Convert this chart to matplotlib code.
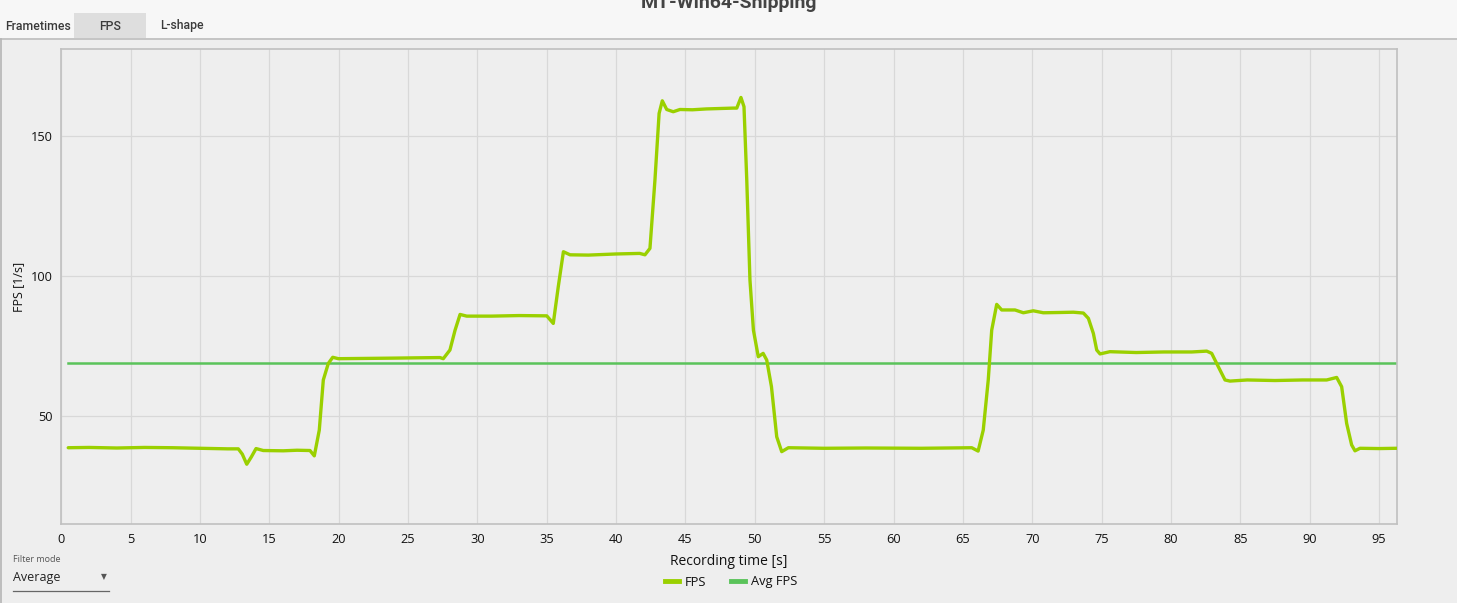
import matplotlib
matplotlib.use("Agg")
import matplotlib.pyplot as plt
from matplotlib.lines import Line2D
from matplotlib.patches import Rectangle

# ---- data ----
time_s = [0.5, 2.0, 4.0, 6.0, 8.0, 10.0, 12.0, 12.76, 13.05, 13.37, 13.7, 14.04, 14.56, 16.0, 17.0,
          17.93, 18.24, 18.6, 18.89, 19.25, 19.57, 19.97, 22.0, 23.94, 25.5, 27.3, 27.54, 28.02,
          28.39, 28.75, 29.23, 31.0, 33.0, 35.0, 35.47, 35.83, 36.2, 36.68, 38.0, 40.0, 41.7,
          42.08, 42.44, 42.8, 43.1, 43.33, 43.65, 44.12, 44.6, 45.5, 46.5, 48.45, 48.7, 49.0,
          49.22, 49.42, 49.65, 49.9, 50.25, 50.6, 50.86, 51.2, 51.58, 51.94, 52.42, 55.0, 58.0,
          62.0, 65.64, 66.1, 66.47, 66.83, 67.08, 67.44, 67.8, 68.76, 69.36, 70.08, 70.8, 72.0,
          72.97, 73.69, 74.05, 74.41, 74.65, 74.89, 75.6, 77.5, 79.5, 81.5, 82.58, 82.94, 83.42,
          83.9, 84.26, 85.5, 87.5, 89.5, 91.23, 91.95, 92.31, 92.67, 93.03, 93.27, 93.63, 95.0,
          96.28]
fps = [38.8, 38.9, 38.7, 38.9, 38.8, 38.6, 38.4, 38.4, 36.5, 32.9, 35.5, 38.5, 37.8, 37.7, 37.9,
       37.8, 35.9, 45.1, 63.0, 68.9, 71.1, 70.6, 70.7, 70.8, 70.9, 71.0, 70.6, 73.7,
       80.8, 86.4, 85.8, 85.8, 86.0, 85.9, 83.2, 96.3, 108.8, 107.7, 107.6, 108.0, 108.2,
       107.7, 110.0, 134.4, 158.2, 162.7, 159.6, 158.8, 159.6, 159.5, 159.8, 160.1, 160.1, 163.9,
       160.6, 134.4, 98.7, 80.8, 71.3, 72.5, 70.1, 60.6, 42.7, 37.4, 38.8, 38.6, 38.7,
       38.6, 38.8, 37.6, 45.1, 63.0, 80.8, 90.0, 88.0, 88.0, 87.0, 87.7, 87.0, 87.1,
       87.2, 86.9, 85.0, 79.6, 73.7, 72.3, 73.1, 72.8, 73.0, 73.0, 73.3, 72.5, 67.7,
       63.0, 62.6, 63.0, 62.8, 63.0, 63.0, 63.9, 60.6, 47.5, 39.8, 37.7, 38.6, 38.5,
       38.6]
avg_fps = 68.9
x_ticks = [0, 5, 10, 15, 20, 25, 30, 35, 40, 45, 50, 55, 60, 65, 70, 75, 80, 85, 90, 95]
y_ticks = [50, 100, 150]
tabs = ["Frametimes", "FPS", "L-shape"]
title = "MT-Win64-Shipping"

W, H = 1457, 603
fig = plt.figure(figsize=(W / 100, H / 100), dpi=100)
fig.patch.set_facecolor("#eeeeee")

def fx(px):
    return px / W

def fy(py):
    return 1 - py / H

# top strip
fig.add_artist(Rectangle((0, fy(38)), 1, 38 / H, transform=fig.transFigure,
                         facecolor="#f7f7f7", edgecolor="none", zorder=0))
fig.add_artist(Rectangle((fx(74), fy(38)), 72 / W, 25 / H, transform=fig.transFigure,
                         facecolor="#dedede", edgecolor="none", zorder=1))
fig.add_artist(Line2D([0, 1], [fy(38.5), fy(38.5)], transform=fig.transFigure,
                      color="#bdbdbd", lw=1.2, zorder=2))
fig.add_artist(Line2D([fx(0.5), fx(0.5)], [0, fy(38.5)], transform=fig.transFigure,
                      color="#b5b5b5", lw=1.2, zorder=2))

tab_x = [38, 110, 182]
for tx, lab in zip(tab_x, tabs):
    fig.text(fx(tx), fy(26), lab, ha="center", va="center", fontsize=8.8,
             family="Roboto", weight="medium", color="#3a3a3a")

fig.text(fx(729), fy(7.5), title, ha="center", va="baseline", fontsize=14,
         family="Roboto", weight="bold", color="#444444")

# axes
ax = fig.add_axes([fx(61.3), fy(524.3), (1397 - 61.3) / W, (524.3 - 49.3) / H])
ax.set_facecolor("#eeeeee")
ax.plot(time_s, fps, color="#9ad000", lw=2.4, solid_joinstyle="round",
        solid_capstyle="round", zorder=3, label="FPS")
ax.plot([time_s[0], time_s[-1]], [avg_fps, avg_fps], color="#5ac35a", lw=1.8,
        zorder=2, label="Avg FPS")
ax.set_xlim(0, 96.3)
ax.set_ylim(11.45, 181.1)
ax.set_xticks(x_ticks)
ax.set_yticks(y_ticks)
ax.grid(True, color="#d8d8d8", lw=0.9)
ax.set_axisbelow(True)
for s in ax.spines.values():
    s.set_color("#c0c0c0")
    s.set_linewidth(1.2)
ax.tick_params(length=0, labelsize=9.2, colors="#111111", pad=6)
for lab in ax.get_xticklabels() + ax.get_yticklabels():
    lab.set_family("Open Sans")
ax.set_xlabel("Recording time [s]", fontsize=10, family="Open Sans", color="#111111",
              labelpad=6)
ax.set_ylabel("FPS [1/s]", fontsize=9, family="Open Sans", color="#111111", labelpad=4)

leg = fig.legend(handles=[Line2D([], [], color="#9ad000", lw=3.5),
                          Line2D([], [], color="#5ac35a", lw=3.5)],
                 labels=["FPS", "Avg FPS"], loc="center", bbox_to_anchor=(fx(731), fy(582)),
                 ncol=2, frameon=False, handlelength=1.1, handletextpad=0.45,
                 columnspacing=1.9, prop={"family": "Open Sans", "size": 9.3})
for t in leg.get_texts():
    t.set_color("#111111")

# filter mode widget
fig.text(fx(13), fy(559), "Filter mode", ha="left", va="center", fontsize=6.5,
         family="Open Sans", color="#555555")
fig.text(fx(13), fy(577), "Average", ha="left", va="center", fontsize=9,
         family="Open Sans", color="#222222")
fig.text(fx(104), fy(577), "\u25BC", ha="center", va="center", fontsize=5.5,
         family="DejaVu Sans", color="#555555")
fig.add_artist(Line2D([fx(13), fx(109)], [fy(591), fy(591)], transform=fig.transFigure,
                      color="#666666", lw=0.9))

fig.savefig("out.png", dpi=100, facecolor=fig.get_facecolor())
